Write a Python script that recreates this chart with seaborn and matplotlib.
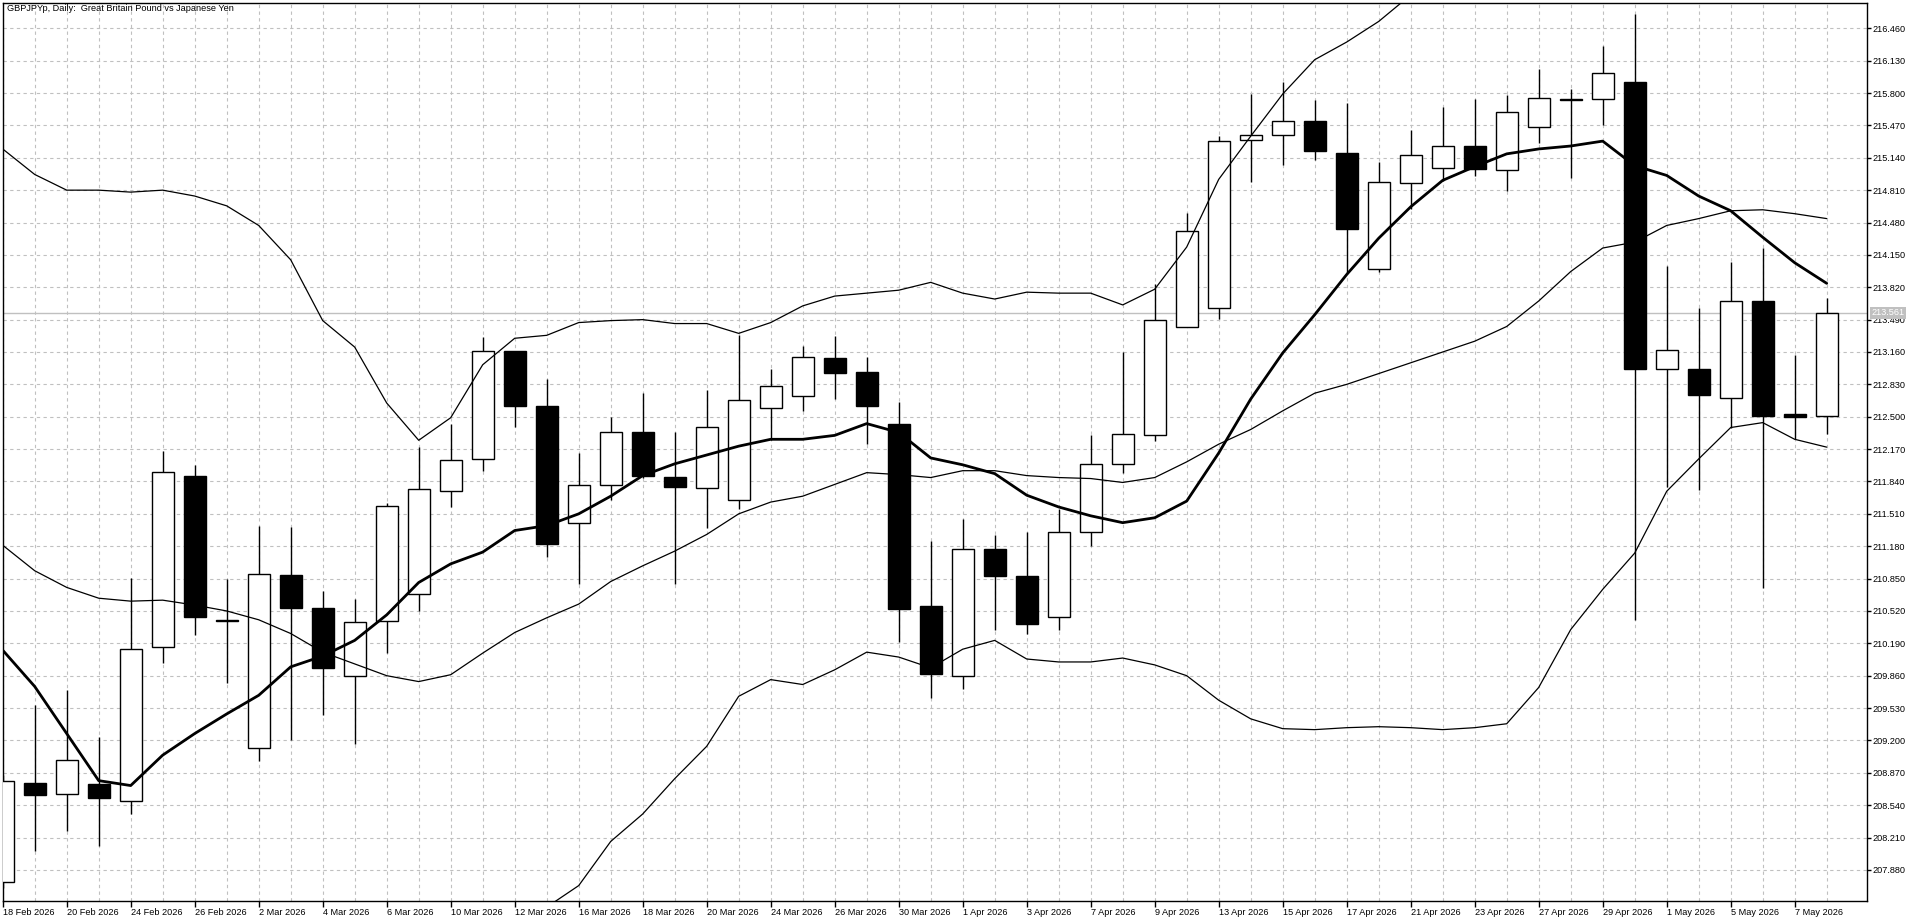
import numpy as np
import pandas as pd
import matplotlib
matplotlib.use("Agg")
import matplotlib.pyplot as plt
import matplotlib.transforms as mtransforms
import seaborn as sns

dates = ["18 Feb 2026","19 Feb 2026","20 Feb 2026","23 Feb 2026","24 Feb 2026","25 Feb 2026","26 Feb 2026","27 Feb 2026",
         "2 Mar 2026","3 Mar 2026","4 Mar 2026","5 Mar 2026","6 Mar 2026","9 Mar 2026","10 Mar 2026","11 Mar 2026",
         "12 Mar 2026","13 Mar 2026","16 Mar 2026","17 Mar 2026","18 Mar 2026","19 Mar 2026","20 Mar 2026","23 Mar 2026",
         "24 Mar 2026","25 Mar 2026","26 Mar 2026","27 Mar 2026","30 Mar 2026","31 Mar 2026","1 Apr 2026","2 Apr 2026",
         "3 Apr 2026","6 Apr 2026","7 Apr 2026","8 Apr 2026","9 Apr 2026","10 Apr 2026","13 Apr 2026","14 Apr 2026",
         "15 Apr 2026","16 Apr 2026","17 Apr 2026","20 Apr 2026","21 Apr 2026","22 Apr 2026","23 Apr 2026","24 Apr 2026",
         "27 Apr 2026","28 Apr 2026","29 Apr 2026","30 Apr 2026","1 May 2026","4 May 2026","5 May 2026","6 May 2026",
         "7 May 2026","8 May 2026"]

opens = [207.76, 208.77, 208.65, 208.76, 208.58, 210.15, 211.90, 210.43, 209.12, 210.89,
         210.55, 209.86, 210.42, 210.69, 211.74, 212.07, 213.17, 212.61, 211.42, 211.80,
         212.34, 211.89, 211.77, 211.65, 212.59, 212.71, 213.10, 212.96, 212.43, 210.57,
         209.86, 211.15, 210.88, 210.46, 211.32, 212.02, 212.31, 213.41, 213.61, 215.32,
         215.37, 215.51, 215.19, 214.01, 214.88, 215.04, 215.26, 215.02, 215.45, 215.74,
         215.74, 215.91, 212.99, 212.99, 212.69, 213.68, 212.53, 212.51]
highs = [208.85, 209.56, 209.71, 209.23, 210.86, 212.15, 212.01, 210.85, 211.39, 211.38,
         210.72, 210.64, 211.62, 212.19, 212.43, 213.31, 213.17, 212.88, 212.13, 212.50,
         212.74, 212.34, 212.77, 213.33, 212.99, 213.22, 213.32, 213.11, 212.65, 211.23,
         211.46, 211.29, 211.32, 211.56, 212.31, 213.16, 213.85, 214.58, 215.36, 215.79,
         215.91, 215.73, 215.70, 215.10, 215.42, 215.66, 215.74, 215.78, 216.05, 215.84,
         216.28, 216.61, 214.04, 213.61, 214.08, 214.22, 213.13, 213.71]
lows = [207.70, 208.07, 208.28, 208.12, 208.45, 209.99, 210.27, 209.79, 208.99, 209.20,
        209.46, 209.16, 210.09, 210.52, 211.58, 211.95, 212.40, 211.07, 210.79, 211.65,
        211.88, 210.79, 211.37, 211.56, 212.26, 212.56, 212.68, 212.22, 210.20, 209.63,
        209.72, 210.33, 210.28, 210.33, 211.18, 211.93, 212.25, 213.41, 213.50, 214.89,
        215.07, 215.12, 213.97, 213.98, 214.62, 214.90, 214.95, 214.80, 215.29, 214.93,
        215.47, 210.43, 211.78, 211.75, 212.39, 210.75, 212.27, 212.32]
closes = [208.79, 208.64, 209.00, 208.61, 210.13, 211.94, 210.46, 210.42, 210.90, 210.55,
          209.94, 210.41, 211.59, 211.76, 212.06, 213.17, 212.61, 211.20, 211.80, 212.34,
          211.90, 211.78, 212.40, 212.67, 212.81, 213.11, 212.95, 212.61, 210.54, 209.88,
          211.15, 210.88, 210.39, 211.32, 212.02, 212.32, 213.49, 214.39, 215.31, 215.37,
          215.52, 215.21, 214.41, 214.89, 215.17, 215.26, 215.03, 215.61, 215.75, 215.73,
          216.00, 212.99, 213.18, 212.72, 213.68, 212.51, 212.50, 213.561]

ma_line = [210.12, 209.75, 209.27, 208.79, 208.74, 209.05, 209.27, 209.47, 209.66, 209.95,
           210.06, 210.22, 210.48, 210.81, 211.00, 211.12, 211.34, 211.39, 211.51, 211.69,
           211.90, 212.02, 212.11, 212.20, 212.27, 212.27, 212.31, 212.43, 212.34, 212.08,
           212.01, 211.92, 211.70, 211.58, 211.49, 211.42, 211.47, 211.64, 212.13, 212.68,
           213.15, 213.54, 213.95, 214.32, 214.64, 214.91, 215.05, 215.18, 215.23, 215.26,
           215.31, 215.06, 214.96, 214.75, 214.60, 214.33, 214.07, 213.86]
bb_middle = [211.19, 210.93, 210.76, 210.65, 210.62, 210.63, 210.58, 210.52, 210.43, 210.29,
             210.10, 209.98, 209.86, 209.80, 209.87, 210.09, 210.30, 210.45, 210.59, 210.82,
             210.98, 211.13, 211.30, 211.51, 211.63, 211.69, 211.81, 211.93, 211.91, 211.88,
             211.95, 211.95, 211.90, 211.88, 211.87, 211.83, 211.88, 212.04, 212.22, 212.37,
             212.56, 212.74, 212.83, 212.94, 213.05, 213.16, 213.27, 213.42, 213.68, 213.98,
             214.22, 214.28, 214.45, 214.52, 214.60, 214.61, 214.57, 214.52]
bb_upper = [215.23, 214.97, 214.81, 214.81, 214.79, 214.81, 214.75, 214.65, 214.45, 214.10,
            213.48, 213.21, 212.64, 212.26, 212.49, 213.03, 213.30, 213.33, 213.46, 213.48,
            213.49, 213.45, 213.45, 213.35, 213.46, 213.63, 213.73, 213.76, 213.79, 213.87,
            213.76, 213.70, 213.77, 213.76, 213.76, 213.64, 213.80, 214.23, 214.92, 215.36,
            215.79, 216.14, 216.32, 216.53, 216.80] + [np.nan] * 13
bb_lower = [np.nan] * 16 + [207.30, 207.50, 207.72, 208.17,
            208.45, 208.81, 209.14, 209.65, 209.82, 209.77, 209.92, 210.10, 210.05, 209.94,
            210.13, 210.22, 210.03, 210.00, 210.00, 210.04, 209.97, 209.86, 209.61, 209.42,
            209.32, 209.31, 209.33, 209.34, 209.33, 209.31, 209.33, 209.37, 209.74, 210.33,
            210.74, 211.11, 211.74, 212.07, 212.39, 212.44, 212.27, 212.19]

price_ticks = [207.880, 208.210, 208.540, 208.870, 209.200, 209.530, 209.860, 210.190, 210.520,
               210.850, 211.180, 211.510, 211.840, 212.170, 212.500, 212.830, 213.160, 213.490,
               213.820, 214.150, 214.480, 214.810, 215.140, 215.470, 215.800, 216.130, 216.460]
last_price = 213.561
title_text = "GBPJPYp, Daily:  Great Britain Pound vs Japanese Yen"

df = pd.DataFrame({"i": np.arange(len(dates)), "open": opens, "high": highs, "low": lows,
                   "close": closes, "ma": ma_line, "mid": bb_middle, "up": bb_upper, "lo": bb_lower})

sns.set_theme(style="white")
plt.rcParams["font.family"] = ["Liberation Sans", "DejaVu Sans"]

W, H = 1920, 923
fig = plt.figure(figsize=(W / 100, H / 100), dpi=100)
fig.patch.set_facecolor("white")
L, R, T, B = 2.7, 1867, 3, 901
ax = fig.add_axes([L / W, 1 - B / H, (R - L) / W, (B - T) / H])
ax.set_facecolor("white")

# grid
grid_kw = dict(color="#c0c0c0", lw=0.8, ls=(0, (3, 3)), zorder=0)
for xi in df["i"]:
    ax.axvline(xi, **grid_kw)
for p in price_ticks:
    ax.axhline(p, **grid_kw)
ax.axhline(last_price, color="#c0c0c0", lw=1, zorder=0.5)

# wicks
ax.vlines(df["i"], df["low"], df["high"], color="black", lw=1, zorder=2)
# bodies
up = df["close"] >= df["open"]
bottoms = np.minimum(df["open"], df["close"])
heights = np.abs(df["close"] - df["open"])
ax.bar(df["i"][up], heights[up], bottom=bottoms[up], width=0.7, color="white",
       edgecolor="black", linewidth=1, zorder=3)
ax.bar(df["i"][~up], heights[~up], bottom=bottoms[~up], width=0.7, color="black",
       edgecolor="black", linewidth=1, zorder=3)

# indicator lines
sns.lineplot(data=df, x="i", y="up", ax=ax, color="black", lw=0.9, zorder=4)
sns.lineplot(data=df, x="i", y="mid", ax=ax, color="black", lw=0.9, zorder=4)
sns.lineplot(data=df, x="i", y="lo", ax=ax, color="black", lw=0.9, zorder=4)
sns.lineplot(data=df, x="i", y="ma", ax=ax, color="black", lw=2.0, zorder=5)

ax.set_xlim(0, (R - L) / 32)
ax.set_ylim(207.563, 216.718)
ax.set_xlabel("")
ax.set_ylabel("")

for s in ax.spines.values():
    s.set_visible(True)
    s.set_color("black")
    s.set_linewidth(1)

ax.yaxis.tick_right()
ax.set_yticks(price_ticks)
ax.set_yticklabels([f"{p:.3f}" for p in price_ticks])
ax.tick_params(axis="y", which="both", right=True, left=False, direction="out", length=3,
               width=1, color="black", labelsize=6.6, pad=1, labelcolor="black")
xt = list(range(0, len(dates), 2))
ax.set_xticks(xt)
ax.set_xticklabels([dates[k] for k in xt])
ax.tick_params(axis="x", which="both", bottom=True, direction="out", length=4, width=1,
               color="black", labelsize=6.6, pad=1, labelcolor="black")
for lab in ax.get_xticklabels():
    lab.set_horizontalalignment("left")

ax.text(4 / (R - L), 1 - 6 / (B - T), title_text, transform=ax.transAxes, ha="left", va="center",
        fontsize=6.6, color="black", zorder=10)

trans = mtransforms.blended_transform_factory(ax.transAxes, ax.transData)
ax.text(1 + 4 / (R - L), last_price, f"{last_price:.3f}", transform=trans, ha="left", va="center",
        fontsize=6.6, color="white", zorder=10, clip_on=False,
        bbox=dict(boxstyle="square,pad=0.15", facecolor="#c0c0c0", edgecolor="none"))

fig.savefig("out.png", dpi=100, facecolor="white")
